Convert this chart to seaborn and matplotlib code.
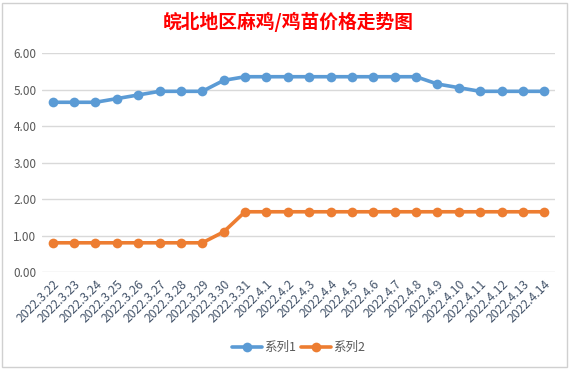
import pandas as pd
import matplotlib.pyplot as plt
import seaborn as sns
from matplotlib.patches import Rectangle

# -------------------------------
# Data
dates = ["2022.3.22", "2022.3.23", "2022.3.24", "2022.3.25", "2022.3.26", "2022.3.27",
         "2022.3.28", "2022.3.29", "2022.3.30", "2022.3.31", "2022.4.1", "2022.4.2",
         "2022.4.3", "2022.4.4", "2022.4.5", "2022.4.6", "2022.4.7", "2022.4.8",
         "2022.4.9", "2022.4.10", "2022.4.11", "2022.4.12", "2022.4.13", "2022.4.14"]
series1 = [4.65, 4.65, 4.65, 4.75, 4.85, 4.95, 4.95, 4.95, 5.25, 5.35, 5.35, 5.35,
           5.35, 5.35, 5.35, 5.35, 5.35, 5.35, 5.15, 5.05, 4.95, 4.95, 4.95, 4.95]
series2 = [0.80, 0.80, 0.80, 0.80, 0.80, 0.80, 0.80, 0.80, 1.10, 1.65, 1.65, 1.65,
           1.65, 1.65, 1.65, 1.65, 1.65, 1.65, 1.65, 1.65, 1.65, 1.65, 1.65, 1.65]
series_names = ["系列1", "系列2"]
yticks = [0, 1, 2, 3, 4, 5, 6]

df = pd.concat([
    pd.DataFrame({"date": dates, "price": series1, "series": series_names[0]}),
    pd.DataFrame({"date": dates, "price": series2, "series": series_names[1]}),
])

# -------------------------------
sns.set_style("white")
plt.rcParams['font.family'] = ['Noto Sans CJK SC', 'DejaVu Sans']

fig = plt.figure(figsize=(5.73, 3.70), dpi=100)
ax = fig.add_axes([42 / 573, 1 - 272 / 370, 513 / 573, 219 / 370])

# chart border
fig.patches.append(Rectangle((2 / 573, 3 / 370), 565 / 573, 364 / 370,
                             transform=fig.transFigure, fill=False,
                             edgecolor="#D0D0D0", linewidth=1))

sns.lineplot(data=df, x="date", y="price", hue="series", sort=False,
             palette=["#5B9BD5", "#ED7D31"], marker="o", markersize=7,
             markeredgewidth=0, linewidth=2.6, ax=ax)

ax.set_xlim(-0.5, len(dates) - 0.5)
ax.set_ylim(0, 6)
ax.set_yticks(yticks)
ax.set_yticklabels([f"{v:.2f}" for v in yticks], fontsize=8.5, color="#595959")
ax.yaxis.grid(True, color="#D9D9D9", linewidth=1)
ax.set_axisbelow(True)
for s in ax.spines.values():
    s.set_visible(False)
ax.tick_params(axis="both", length=0, pad=4)
plt.setp(ax.get_xticklabels(), rotation=45, ha="right", rotation_mode="anchor",
         fontsize=8.8, color="#44546A")
ax.set_xlabel("")
ax.set_ylabel("")

ax.legend(loc="center", bbox_to_anchor=(0.5, -0.345), ncol=2, frameon=False,
          fontsize=9, handlelength=2.4, columnspacing=0.4, handletextpad=0.2,
          labelcolor="#595959")

fig.text(288 / 573, 1 - 22 / 370, "皖北地区麻鸡/鸡苗价格走势图", color="#FF0000",
         fontsize=13.5, fontweight="bold", ha="center", va="center")

plt.savefig("out.png", dpi=100)
